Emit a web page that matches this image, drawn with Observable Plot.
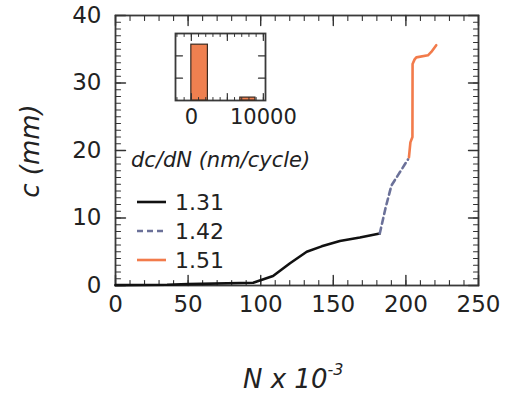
<!DOCTYPE html>
<html><head><meta charset="utf-8">
<script src="https://cdn.jsdelivr.net/npm/d3@7"></script>
<script src="https://cdn.jsdelivr.net/npm/@observablehq/plot@0.6"></script>
<style>
body{margin:0;background:#fff;}
#wrap{position:relative;width:506px;height:396px;overflow:hidden;font-family:"DejaVu Sans",sans-serif;color:#222;background:#fff;}
#wrap svg{position:absolute;overflow:visible;}
.abs{position:absolute;white-space:nowrap;line-height:1;}
</style></head><body><div id="wrap"></div>
<script>
// ---- data ----
const seriesNames = ["1.31", "1.42", "1.51"];
const seriesColors = ["#111111", "#6b7199", "#f27b4b"];
const seriesDash = [null, "6,4", null];

const N131 = [0, 35.5, 50, 94.8, 108.5, 120.2, 131.7, 142, 154.5, 168.3, 182];
const c131 = [0.05, 0.1, 0.2, 0.4, 1.4, 3.3, 5.0, 5.8, 6.6, 7.1, 7.7];
const N142 = [182, 186, 190, 195, 201.5];
const c142 = [7.7, 11.5, 14.8, 16.5, 18.7];
const N151 = [202.1, 203.1, 204.5, 204.6, 206, 207.2, 215.2, 217.5, 220.9];
const c151 = [19.0, 21.2, 22.0, 32.8, 33.5, 33.8, 34.1, 34.6, 35.6];

const xMajor = [0, 50, 100, 150, 200, 250];
const yMajor = [0, 10, 20, 30, 40];
const xMinor = d3.range(0, 251, 10);
const yMinor = d3.range(0, 41, 1);

// inset histogram of dc/dN
const binLo = [0, 6800];
const binHi = [2300, 8900];
const binCount = [2.5, 0.13];
const insetXLabels = [0, 10000];
const insetXMajor = [0, 5000, 10000];
const insetXMinor = d3.range(-2000, 10001, 1000);
const insetYMajor = [1, 2];

const xTitle = "N x 10";
const xTitleSup = "-3";
const yTitle = "c (mm)";
const legendTitle = "dc/dN (nm/cycle)";

// ---- build ----
const ser = [[N131, c131], [N142, c142], [N151, c151]];
const lines = ser.map(([xs, ys], i) => xs.map((N, j) => ({N, c: ys[j], s: seriesNames[i]})));

const frameColor = "#3a3a3a";
const tickColor = "#333333";
const fmt = d => String(d);

// inward frame ticks as two-point line segments, length converted from px to data units
function tickSegments(xDom, yDom, iw, ih, xt, yt, len) {
  const kx = (xDom[1] - xDom[0]) / iw, ky = (yDom[1] - yDom[0]) / ih;
  const segs = [];
  let id = 0;
  for (const v of xt) {
    segs.push({x: v, y: yDom[0], id}, {x: v, y: yDom[0] + len * ky, id}); id++;
    segs.push({x: v, y: yDom[1], id}, {x: v, y: yDom[1] - len * ky, id}); id++;
  }
  for (const v of yt) {
    segs.push({x: xDom[0], y: v, id}, {x: xDom[0] + len * kx, y: v, id}); id++;
    segs.push({x: xDom[1], y: v, id}, {x: xDom[1] - len * kx, y: v, id}); id++;
  }
  return segs;
}

const W = 506, H = 396, mL = 115, mR = 28, mT = 15, mB = 111;
const xDom = [0, 250], yDom = [0, 40];
const iw = W - mL - mR, ih = H - mT - mB;
const main = Plot.plot({
  width: W, height: H,
  marginLeft: mL, marginRight: mR, marginTop: mT, marginBottom: mB,
  style: {fontFamily: "DejaVu Sans", fontSize: "23px", color: "#222", background: "transparent"},
  x: {domain: xDom, label: null},
  y: {domain: yDom, label: null},
  marks: [
    Plot.frame({fill: "none", stroke: frameColor, strokeWidth: 1.8}),
    Plot.axisX(xMajor, {anchor: "bottom", tickSize: 0, tickPadding: 10, label: null, tickFormat: fmt, fontSize: 23}),
    Plot.axisY(yMajor, {anchor: "left", tickSize: 0, tickPadding: 14, label: null, tickFormat: fmt, fontSize: 23}),
    Plot.line(tickSegments(xDom, yDom, iw, ih, xMinor, yMinor, 5), {x: "x", y: "y", z: "id", stroke: tickColor, strokeWidth: 1.1}),
    Plot.line(tickSegments(xDom, yDom, iw, ih, xMajor, yMajor, 10), {x: "x", y: "y", z: "id", stroke: tickColor, strokeWidth: 1.4}),
    ...lines.map((d, i) => Plot.line(d, {x: "N", y: "c", stroke: seriesColors[i], strokeWidth: 2.6, strokeDasharray: seriesDash[i]}))
  ]
});

const bins = binLo.map((lo, i) => ({lo, hi: binHi[i], n: binCount[i]}));
const iW = 170, iH = 120, imL = 25, imR = 55, imT = 10, imB = 43;
const ixDom = [-2200, 10300], iyDom = [0, 3];
const iiw = iW - imL - imR, iih = iH - imT - imB;
const inset = Plot.plot({
  width: iW, height: iH,
  marginLeft: imL, marginRight: imR, marginTop: imT, marginBottom: imB,
  style: {fontFamily: "DejaVu Sans", fontSize: "21px", color: "#222", background: "transparent"},
  x: {domain: ixDom, label: null},
  y: {domain: iyDom, label: null, axis: null},
  marks: [
    Plot.frame({fill: "none", stroke: frameColor, strokeWidth: 1.8}),
    Plot.rect(bins, {x1: "lo", x2: "hi", y1: 0, y2: "n", fill: "#ef8050", stroke: "#3a2a20", strokeWidth: 1.2}),
    Plot.axisX(insetXLabels, {anchor: "bottom", tickSize: 0, tickPadding: 9, label: null, tickFormat: fmt, fontSize: 21}),
    Plot.line(tickSegments(ixDom, iyDom, iiw, iih, insetXMinor, [], 3), {x: "x", y: "y", z: "id", stroke: tickColor, strokeWidth: 1}),
    Plot.line(tickSegments(ixDom, iyDom, iiw, iih, insetXMajor, insetYMajor, 7), {x: "x", y: "y", z: "id", stroke: tickColor, strokeWidth: 1.2})
  ]
});

const wrap = document.getElementById("wrap");
main.style.left = "0px"; main.style.top = "0px";
inset.style.left = "150px"; inset.style.top = "23px";
wrap.append(main, inset);

// axis titles
const xt = document.createElement("div");
xt.className = "abs";
xt.style.cssText = "left:243px;top:366px;font-size:26px;font-style:italic;";
xt.innerHTML = `${xTitle}<span style="font-size:16px;position:relative;top:-13px;">${xTitleSup}</span>`;
wrap.append(xt);

const yt = document.createElement("div");
yt.className = "abs";
yt.style.cssText = "left:30px;top:151px;font-size:26px;font-style:italic;transform:translate(-50%,-50%) rotate(-90deg);";
yt.textContent = yTitle;
wrap.append(yt);

// legend
const lt = document.createElement("div");
lt.className = "abs";
lt.style.cssText = "left:131px;top:150px;font-size:21px;font-style:italic;";
lt.textContent = legendTitle;
wrap.append(lt);

const leg = d3.create("svg").attr("width", 120).attr("height", 90)
  .style("left", "130px").style("top", "185px");
seriesNames.forEach((name, i) => {
  const y = 17 + i * 29;
  leg.append("line").attr("x1", 7).attr("x2", 36).attr("y1", y).attr("y2", y)
    .attr("stroke", seriesColors[i]).attr("stroke-width", 2.6)
    .attr("stroke-dasharray", seriesDash[i]);
  leg.append("text").attr("x", 45).attr("y", y).attr("dy", "0.36em")
    .attr("font-family", "DejaVu Sans").attr("font-size", 22).attr("fill", "#222").text(name);
});
wrap.append(leg.node());
</script></body></html>
